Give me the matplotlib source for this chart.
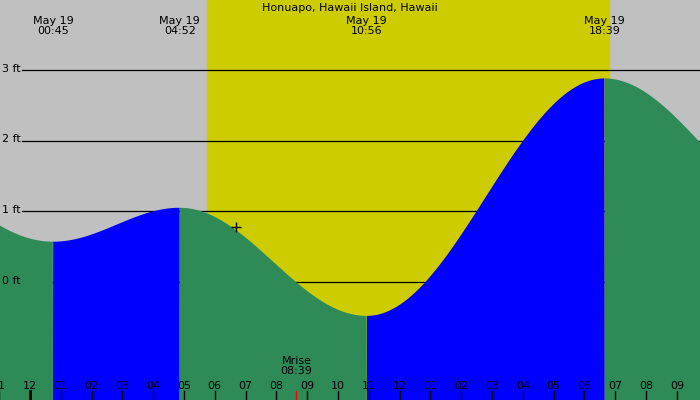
import numpy as np
import matplotlib
matplotlib.use("Agg")
import matplotlib.pyplot as plt

# tide extremes (hours after midnight May 19, feet)
ext_times = [-6.3, 0.75, 4.867, 10.933, 18.65, 25.0]
ext_heights = [2.2, 0.57, 1.05, -0.48, 2.88, 1.0]
label_times = ["00:45", "04:52", "10:56", "18:39"]
label_hours = [0.75, 4.867, 10.933, 18.65]
sunrise, sunset = 5.75, 18.8
moonrise = 8.65
ft_levels = [0, 1, 2, 3]
hour_ticks = list(range(-1, 22))

x0, x1 = -0.97, 21.75
y0, y1 = -1.67, 3.99

t = np.linspace(x0, x1, 2000)
h = np.zeros_like(t)
for i in range(len(ext_times) - 1):
    a, b = ext_times[i], ext_times[i + 1]
    m = (t >= a) & (t <= b)
    f = (t[m] - a) / (b - a)
    h[m] = ext_heights[i + 1] + (ext_heights[i] - ext_heights[i + 1]) * (1 + np.cos(np.pi * f)) / 2

fig = plt.figure(figsize=(7, 4), dpi=100)
ax = fig.add_axes([0, 0, 1, 1])
ax.set_xlim(x0, x1)
ax.set_ylim(y0, y1)
ax.axis("off")
fig.patch.set_facecolor("#c0c0c0")
ax.axvspan(sunrise, sunset, color="#cccc00", zorder=0)

for lv in ft_levels:
    ax.plot([x0 + 0.72, x1], [lv, lv], color="black", lw=0.9, zorder=1)
    ax.text(x0 + 0.05, lv + 0.02, f"{lv} ft", fontsize=8, va="center", ha="left", zorder=5)

rising = np.gradient(h) > 0
ax.fill_between(t, y0, h, where=rising, color="#0000ff", zorder=2, interpolate=True, lw=0)
ax.fill_between(t, y0, h, where=~rising, color="#2e8b57", zorder=2, interpolate=True, lw=0)

tr = ax.get_xaxis_transform()
for hr in hour_ticks:
    lab = f"{(hr % 12) or 12:02d}" if (hr % 12) else "12"
    ax.text(hr, 0.035, lab, transform=tr, ha="center", va="center", fontsize=8, zorder=5)
    lw = 2 if hr % 24 == 0 else 1
    ax.plot([hr, hr], [0, 0.022], transform=tr, color="black", lw=lw, zorder=5)
ax.plot([moonrise, moonrise], [0, 0.022], transform=tr, color="red", lw=1, zorder=5)
ax.text(moonrise, 0.085, "Mrise\n08:39", transform=tr, ha="center", va="center",
        fontsize=8, linespacing=0.95, zorder=5)

for lh, lt in zip(label_hours, label_times):
    ax.text(lh, 0.935, f"May 19\n{lt}", transform=tr, ha="center", va="center",
            fontsize=8, linespacing=0.95, zorder=5)
ax.text((x0 + x1) / 2, 0.98, "Honuapo, Hawaii Island, Hawaii", transform=tr,
        ha="center", va="center", fontsize=8, zorder=5)
ax.plot([6.7], [0.78], marker="+", color="black", ms=7, mew=1, zorder=6)

fig.savefig("out.png", dpi=100, facecolor=fig.get_facecolor())
